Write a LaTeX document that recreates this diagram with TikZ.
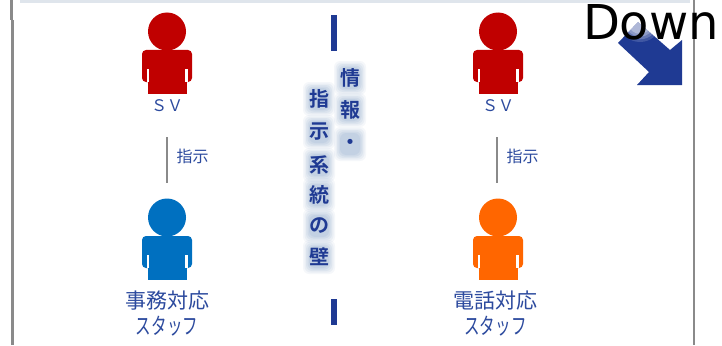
\documentclass[tikz,border=0pt]{standalone}
\usepackage{graphicx}
\usepackage{fontspec}
\setmainfont{Noto Sans CJK JP}
\newfontfamily\downfont{DejaVu Sans}
\newfontfamily\walljp{Noto Sans CJK JP Bold}
\definecolor{navy}{HTML}{1F3A93}
\definecolor{labelblue}{HTML}{2C4A9E}
\definecolor{glowblue}{HTML}{A3BAD6}
\definecolor{framegray}{HTML}{8A8A8A}
\definecolor{stripgray}{HTML}{DFE5EC}
\definecolor{redp}{HTML}{C00000}
\definecolor{bluep}{HTML}{0070C0}
\definecolor{orangep}{HTML}{FF6600}
\tikzset{
  labeltext/.style={inner sep=0pt,text=labelblue,font=\fontsize{21}{26}\selectfont,align=center},
  svtext/.style={inner sep=0pt,text=labelblue,font=\fontsize{16}{18}\selectfont},
  hinttext/.style={inner sep=0pt,text=labelblue,font=\fontsize{16}{18}\selectfont},
  linkline/.style={draw=framegray,line width=2pt},
  framebar/.style={draw=framegray,line width=2.6pt},
  wallbar/.style={fill=navy,draw=none},
  walltext/.style={inner sep=0pt,text=navy,font=\walljp\fontsize{20}{22}\selectfont},
  downtext/.style={inner sep=0pt,font=\downfont\fontsize{48}{48}\selectfont}
}
% #1 name, #2 x, #3 y of head centre, #4 colour
\newcommand{\figureman}[4]{%
  \begin{scope}[shift={(#2,#3)}]
    \node[circle,fill=#4,minimum size=38pt,inner sep=0pt] (#1) at (0,0) {};
    \fill[#4,rounded corners=4pt] (-25,18.5) -- (25,18.5) -- (25,50.5) -- (-25,50.5) -- cycle;
    \fill[#4] (-19,40) rectangle (20,62);
    \fill[white] (-19.6,37.5) rectangle (-17.6,50.5);
    \fill[white] (18,37.5) rectangle (20.6,50.5);
  \end{scope}}
% glowing wall character: #1 name, #2 x, #3 y, #4 char
\newcommand{\wallchar}[4]{%
  \foreach \g/\o in {6/0.10,4.5/0.14,3/0.18,1.5/0.22,0/0.25}{%
    \fill[glowblue,opacity=\o,rounded corners=6pt] (#2-10-\g,#3-11-\g) rectangle (#2+10+\g,#3+11+\g);}
  \node[walltext] (#1) at (#2,#3) {#4};}
\begin{document}
\begin{tikzpicture}[x=1pt,y=-1pt]
\useasboundingbox (0,0) rectangle (722,345);
\fill[white] (0,0) rectangle (722,345);
% frame
\fill[stripgray] (20,0) rectangle (690,3);
\coordinate (fl1) at (11.5,0); \coordinate (fl2) at (11.5,20);
\coordinate (fl3) at (12.5,20); \coordinate (fl4) at (12.5,345);
\coordinate (fr1) at (694,0); \coordinate (fr2) at (694,345);
\draw[framebar] (fl1) -- (fl2);
\draw[framebar] (fl3) -- (fl4);
\draw[framebar] (fr1) -- (fr2);
% people
\figureman{svl}{167}{31.5}{redp}
\figureman{svr}{498}{31.5}{redp}
\figureman{staffl}{167}{217.5}{bluep}
\figureman{staffr}{498}{217.5}{orangep}
% labels
\node[svtext] (lsvl) at (167,106) {ＳＶ};
\node[svtext] (lsvr) at (498,106) {ＳＶ};
\node[labeltext] (lstaffl) at (167,313.5) {事務対応\\\scalebox{0.74}[1.08]{スタッフ}};
\node[labeltext] (lstaffr) at (495.5,313.5) {電話対応\\\scalebox{0.74}[1.08]{スタッフ}};
% links
\coordinate (al) at (167,137); \coordinate (bl) at (167,183);
\coordinate (ar) at (497,137); \coordinate (br) at (497,183);
\draw[linkline] (al) -- (bl);
\draw[linkline] (ar) -- (br);
\node[hinttext] (hl) at (192.5,156) {指示};
\node[hinttext] (hr) at (522.5,156) {指示};
% wall
\fill[wallbar] (330.5,15) rectangle (336.5,51.5);
\fill[wallbar] (331,299) rectangle (337,325);
\wallchar{w1}{350}{78}{情}
\wallchar{w2}{350}{110}{報}
\wallchar{w3}{350}{144}{・}
\wallchar{w4}{319}{99}{指}
\wallchar{w5}{319}{132}{示}
\wallchar{w6}{319}{165}{系}
\wallchar{w7}{319}{195}{統}
\wallchar{w8}{319}{226}{の}
\wallchar{w9}{319}{257}{壁}
% arrow
\fill[navy] (618,43) -- (638,22) -- (670,50) -- (682,40) -- (682,85) -- (637,85) -- (649,72) -- cycle;
\begin{scope}
  \clip (618,43) -- (638,22) -- (670,50) -- (682,40) -- (682,85) -- (637,85) -- (649,72) -- cycle;
  \foreach \r/\o in {20/0.15,17/0.2,14/0.25,11/0.3}{
    \fill[white,opacity=\o] (640,24) ellipse ({\r} and {\r*0.9});}
\end{scope}
\node[downtext,text=black] (down) at (651,22) {Down};
\end{tikzpicture}
\end{document}
